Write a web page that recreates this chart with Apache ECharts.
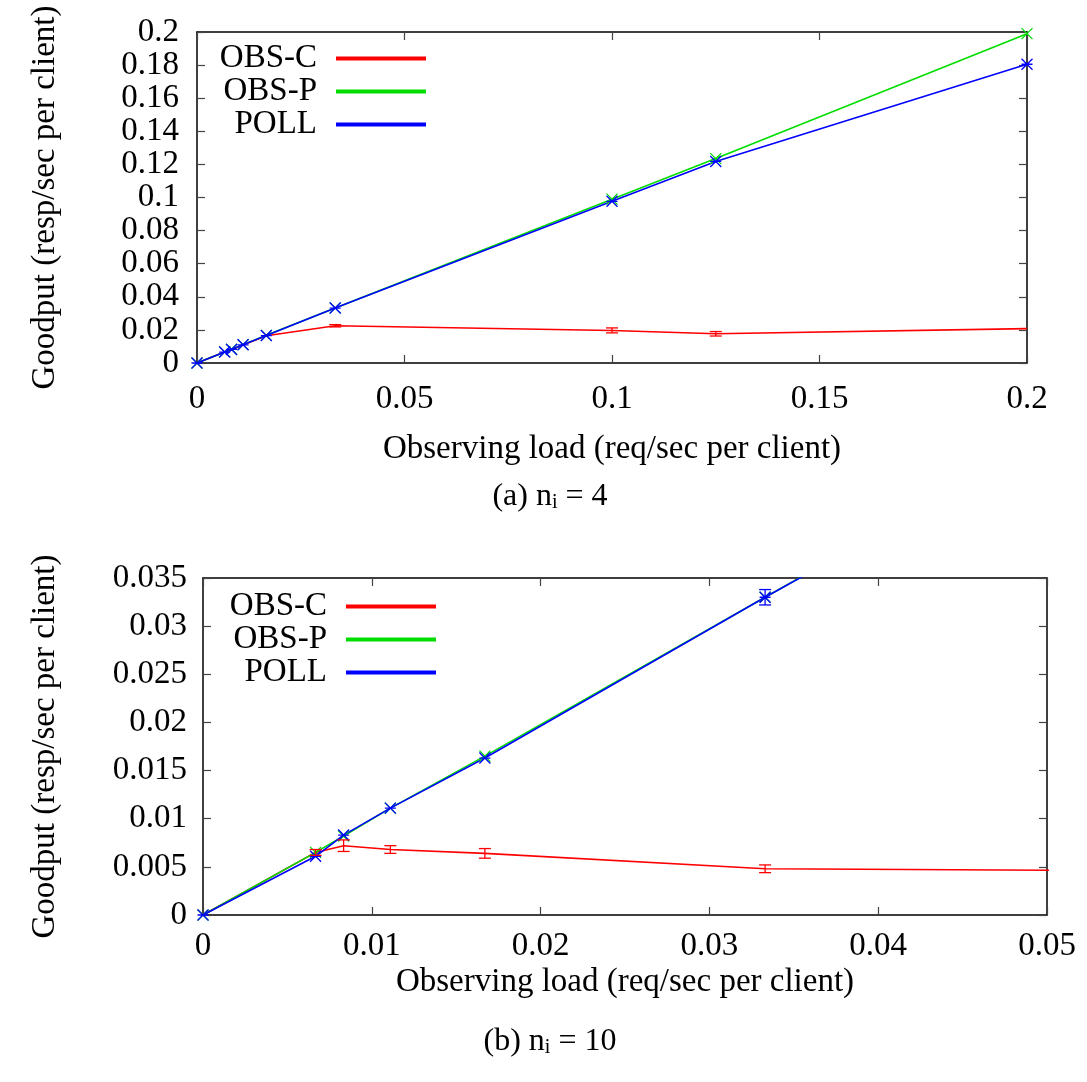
<!DOCTYPE html>
<html><head><meta charset="utf-8">
<script src="https://cdn.jsdelivr.net/npm/echarts@6/dist/echarts.min.js"></script>
<style>html,body{margin:0;padding:0;background:#fff}#c{width:1087px;height:1082px}</style>
</head><body><div id="c"></div>
<script>
// ---- data: panel (a) n_i = 4 ----
const xA = [0, 0.00667, 0.00833, 0.0111, 0.0167, 0.0333, 0.1, 0.125, 0.2];
const obsC_A = [0, 0.0066, 0.0080, 0.0108, 0.0165, 0.0225, 0.0196, 0.0177, 0.0208];
const obsP_A = [0, 0.0067, 0.0083, 0.0111, 0.0167, 0.0333, 0.0990, 0.1235, 0.1990];
const poll_A = [0, 0.0066, 0.0082, 0.0110, 0.0166, 0.0332, 0.0977, 0.1218, 0.1805];
const errC_A = [[0.0333, 0.0218, 0.0232], [0.1, 0.0182, 0.0212], [0.125, 0.0163, 0.0190]];
// ---- data: panel (b) n_i = 10 ----
const xB = [0, 0.00667, 0.00833, 0.0111, 0.0167, 0.0333, 0.1];
const obsC_B = [0, 0.0065, 0.0072, 0.0068, 0.0064, 0.0048, 0.0042];
const obsP_B = [0, 0.0065, 0.0082, 0.0111, 0.0165, 0.0330, 0.0990];
const poll_B = [0, 0.0061, 0.0083, 0.0111, 0.0163, 0.0330, 0.0980];
const errC_B = [[0.00667, 0.0062, 0.0068], [0.00833, 0.0066, 0.0078], [0.0111, 0.0064, 0.0072], [0.0167, 0.0059, 0.0069], [0.0333, 0.0044, 0.0052]];
const errP_B = [[0.0333, 0.0322, 0.0338]];
const names = ['OBS-C', 'OBS-P', 'POLL'];
const colors = ['#ff0000', '#00dd00', '#0000ff'];

const FONT = 'Liberation Serif';
const FS = 33;
const zip = (xs, ys) => xs.map((x, i) => [x, ys[i]]);
const xMark = 'path://M0,0L10,10M0,10L10,0';
const starMark = 'path://M0,0L10,10M0,10L10,0M0,5L10,5';
const fmt = d => (v => String(+v.toFixed(d)));

function axisCommon(extra) {
  return Object.assign({
    type: 'value',
    axisLine: { show: true, onZero: false, lineStyle: { color: '#000', width: 1.5 } },
    axisTick: { show: true, inside: true, length: 8, lineStyle: { color: '#444', width: 1.2 } },
    splitLine: { show: false },
    axisLabel: { show: false }
  }, extra);
}
function lbl(margin, d) {
  return { show: true, color: '#000', fontFamily: FONT, fontSize: FS, margin: margin, formatter: fmt(d) };
}
const nameStyle = { fontFamily: FONT, fontSize: FS, color: '#000' };

function errSeries(data, color, xi, yi) {
  return {
    type: 'custom', xAxisIndex: xi, yAxisIndex: yi, data: data, z: 5, silent: true,
    clip: true,
    renderItem: function (params, api) {
      const p1 = api.coord([api.value(0), api.value(1)]);
      const p2 = api.coord([api.value(0), api.value(2)]);
      const w = 6;
      const st = { stroke: color, lineWidth: 1.3 };
      return { type: 'group', children: [
        { type: 'line', shape: { x1: p1[0], y1: p1[1], x2: p2[0], y2: p2[1] }, style: st },
        { type: 'line', shape: { x1: p1[0] - w, y1: p1[1], x2: p1[0] + w, y2: p1[1] }, style: st },
        { type: 'line', shape: { x1: p2[0] - w, y1: p2[1], x2: p2[0] + w, y2: p2[1] }, style: st }
      ]};
    }
  };
}

function lineSeries(name, data, ci, xi, yi, symbol) {
  return {
    name: name, type: 'line', xAxisIndex: xi, yAxisIndex: yi, data: data,
    color: colors[ci],
    lineStyle: { color: colors[ci], width: 1.6 },
    showSymbol: !!symbol, symbol: symbol || 'none', symbolSize: 11,
    itemStyle: { color: 'none', borderColor: colors[ci], borderWidth: 1.3 },
    clip: true, animation: false
  };
}

const legendCommon = {
  orient: 'vertical', align: 'right', itemWidth: 88, itemHeight: 2, itemGap: 0,
  icon: 'rect', selectedMode: false,
  formatter: '{a|{name}}',
  textStyle: { fontFamily: FONT, fontSize: FS, color: '#000',
    rich: { a: { fontFamily: FONT, fontSize: FS, color: '#000', width: 100, align: 'right', lineHeight: 33, padding: [0, 15, 0, 0] } } },
  data: names.map((n, i) => ({ name: n, itemStyle: { color: colors[i] } }))
};

const capStyle = { fontFamily: FONT, fontSize: 32, fontWeight: 'normal', color: '#000',
  rich: { s: { fontFamily: FONT, fontSize: 20, verticalAlign: 'bottom', padding: [12, 0, 0, 0] } } };

const option = {
  animation: false,
  backgroundColor: '#fff',
  title: [
    { text: '(a) n{s|i} = 4', left: 545, top: 476, textAlign: 'center', textStyle: capStyle },
    { text: '(b) n{s|i} = 10', left: 545, top: 1021, textAlign: 'center', textStyle: capStyle }
  ],
  grid: [
    { left: 197, top: 32, width: 830, height: 331 },
    { left: 203, top: 578, width: 844, height: 337 }
  ],
  legend: [
    Object.assign({ left: 212, top: 37 }, legendCommon),
    Object.assign({ left: 222, top: 585 }, legendCommon)
  ],
  xAxis: [
    axisCommon({ gridIndex: 0, min: 0, max: 0.2, interval: 0.05, position: 'bottom',
      axisLabel: lbl(20, 3),
      name: 'Observing load (req/sec per client)', nameLocation: 'middle', nameGap: 70, nameTextStyle: nameStyle }),
    axisCommon({ gridIndex: 0, min: 0, max: 0.2, interval: 0.05, position: 'top' }),
    axisCommon({ gridIndex: 1, min: 0, max: 0.05, interval: 0.01, position: 'bottom',
      axisLabel: lbl(15, 3),
      name: 'Observing load (req/sec per client)', nameLocation: 'middle', nameGap: 51, nameTextStyle: nameStyle }),
    axisCommon({ gridIndex: 1, min: 0, max: 0.05, interval: 0.01, position: 'top' })
  ],
  yAxis: [
    axisCommon({ gridIndex: 0, min: 0, max: 0.2, interval: 0.02, position: 'left',
      axisLabel: lbl(18, 3),
      name: 'Goodput (resp/sec per client)', nameLocation: 'middle', nameGap: 135, nameRotate: 90, nameTextStyle: nameStyle }),
    axisCommon({ gridIndex: 0, min: 0, max: 0.2, interval: 0.02, position: 'right' }),
    axisCommon({ gridIndex: 1, min: 0, max: 0.035, interval: 0.005, position: 'left',
      axisLabel: lbl(16, 4),
      name: 'Goodput (resp/sec per client)', nameLocation: 'middle', nameGap: 141, nameRotate: 90, nameTextStyle: nameStyle }),
    axisCommon({ gridIndex: 1, min: 0, max: 0.035, interval: 0.005, position: 'right' })
  ],
  series: [
    lineSeries('OBS-C', zip(xA, obsC_A), 0, 0, 0, null),
    lineSeries('OBS-P', zip(xA, obsP_A), 1, 0, 0, xMark),
    lineSeries('POLL', zip(xA, poll_A), 2, 0, 0, starMark),
    errSeries(errC_A, colors[0], 0, 0),
    lineSeries('OBS-C', zip(xB, obsC_B), 0, 2, 2, null),
    lineSeries('OBS-P', zip(xB, obsP_B), 1, 2, 2, xMark),
    lineSeries('POLL', zip(xB, poll_B), 2, 2, 2, starMark),
    errSeries(errC_B, colors[0], 2, 2),
    errSeries(errP_B, colors[2], 2, 2)
  ]
};
const chart = echarts.init(document.getElementById('c'), null, { renderer: 'canvas' });
chart.setOption(option);
</script>
</body></html>
